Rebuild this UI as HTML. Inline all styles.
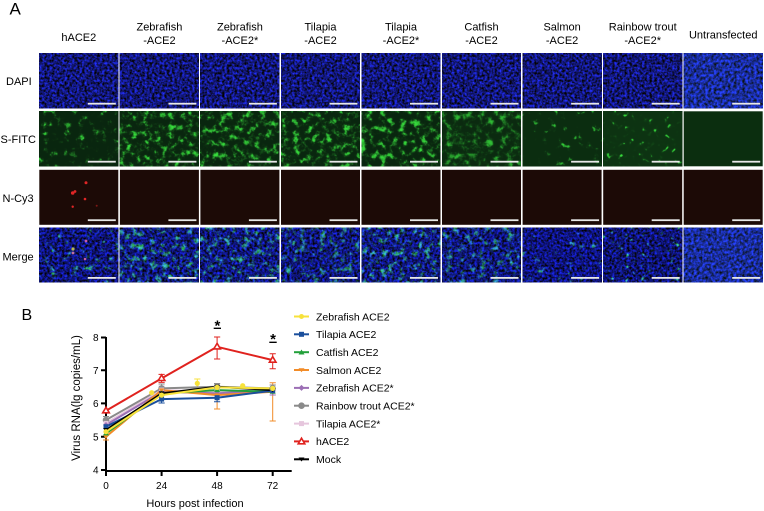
<!DOCTYPE html>
<html><head><meta charset="utf-8"><style>
html,body{margin:0;padding:0;background:#fff;}
body{width:764px;height:511px;overflow:hidden;}
svg{display:block;font-family:"Liberation Sans",Arial,sans-serif;}
</style></head><body>
<svg width="764" height="511" viewBox="0 0 764 511" xmlns="http://www.w3.org/2000/svg">
<defs>
<filter id="dapi" x="0" y="0" width="1" height="1" color-interpolation-filters="sRGB">
 <feTurbulence type="fractalNoise" baseFrequency="0.4" numOctaves="2" seed="3"/>
 <feColorMatrix values="0.2 0 0 0 -0.03  0.3 0 0 0 -0.06  1.8 0 0 0 -0.44  0 0 0 0 1"/>
</filter>
<filter id="dapiB" x="0" y="0" width="1" height="1" color-interpolation-filters="sRGB">
 <feTurbulence type="fractalNoise" baseFrequency="0.35" numOctaves="2" seed="9"/>
 <feColorMatrix values="0.2 0 0 0 0  0.35 0 0 0 0  1.8 0 0 0 -0.3  0 0 0 0 1"/>
</filter>
<!-- green S-FITC -->
<filter id="gD" x="0" y="0" width="1" height="1" color-interpolation-filters="sRGB">
 <feTurbulence type="fractalNoise" baseFrequency="0.16" numOctaves="3" seed="7"/>
 <feColorMatrix values="0 0 0 0 0  1 0 0 0 0  0 0 0 0 0  0 0 0 0 1"/>
 <feComponentTransfer><feFuncG type="table" tableValues="0.17 0.17 0.17 0.17 0.17 0.2 0.36 0.75 0.95 1 1"/></feComponentTransfer>
 <feColorMatrix values="0 0.22 0 0 0  0 0.88 0 0 0  0 0.22 0 0 0.02  0 0 0 0 1"/>
</filter>
<filter id="gD2" x="0" y="0" width="1" height="1" color-interpolation-filters="sRGB">
 <feTurbulence type="fractalNoise" baseFrequency="0.15" numOctaves="3" seed="21"/>
 <feColorMatrix values="0 0 0 0 0  1 0 0 0 0  0 0 0 0 0  0 0 0 0 1"/>
 <feComponentTransfer><feFuncG type="table" tableValues="0.17 0.17 0.17 0.17 0.17 0.2 0.38 0.78 0.95 1 1"/></feComponentTransfer>
 <feColorMatrix values="0 0.22 0 0 0  0 0.88 0 0 0  0 0.22 0 0 0.02  0 0 0 0 1"/>
</filter>
<filter id="gM" x="0" y="0" width="1" height="1" color-interpolation-filters="sRGB">
 <feTurbulence type="fractalNoise" baseFrequency="0.15" numOctaves="3" seed="13"/>
 <feColorMatrix values="0 0 0 0 0  1 0 0 0 0  0 0 0 0 0  0 0 0 0 1"/>
 <feComponentTransfer><feFuncG type="table" tableValues="0.19 0.19 0.19 0.19 0.19 0.22 0.34 0.6 0.8 0.85 0.85"/></feComponentTransfer>
 <feColorMatrix values="0 0.22 0 0 0  0 0.88 0 0 0  0 0.22 0 0 0.02  0 0 0 0 1"/>
</filter>
<filter id="gS" x="0" y="0" width="1" height="1" color-interpolation-filters="sRGB">
 <feTurbulence type="fractalNoise" baseFrequency="0.14" numOctaves="3" seed="31"/>
 <feColorMatrix values="0 0 0 0 0  1 0 0 0 0  0 0 0 0 0  0 0 0 0 1"/>
 <feComponentTransfer><feFuncG type="table" tableValues="0.17 0.17 0.17 0.17 0.17 0.17 0.19 0.35 0.85 1 1"/></feComponentTransfer>
 <feColorMatrix values="0 0.22 0 0 0  0 0.88 0 0 0  0 0.22 0 0 0.02  0 0 0 0 1"/>
</filter>
<filter id="gVS" x="0" y="0" width="1" height="1" color-interpolation-filters="sRGB">
 <feTurbulence type="fractalNoise" baseFrequency="0.12" numOctaves="3" seed="41"/>
 <feColorMatrix values="0 0 0 0 0  1 0 0 0 0  0 0 0 0 0  0 0 0 0 1"/>
 <feComponentTransfer><feFuncG type="table" tableValues="0.2 0.2 0.2 0.2 0.2 0.2 0.2 0.24 0.7 1 1"/></feComponentTransfer>
 <feColorMatrix values="0 0.22 0 0 0  0 0.88 0 0 0  0 0.22 0 0 0.02  0 0 0 0 1"/>
</filter>
<filter id="gDots" x="0" y="0" width="1" height="1" color-interpolation-filters="sRGB">
 <feTurbulence type="fractalNoise" baseFrequency="0.17" numOctaves="2" seed="51"/>
 <feColorMatrix values="0 0 0 0 0  1 0 0 0 0  0 0 0 0 0  0 0 0 0 1"/>
 <feComponentTransfer><feFuncG type="table" tableValues="0.23 0.23 0.23 0.23 0.23 0.23 0.24 0.3 0.9 1 1"/></feComponentTransfer>
 <feColorMatrix values="0 0.22 0 0 0  0 0.88 0 0 0  0 0.22 0 0 0.02  0 0 0 0 1"/>
</filter>
<!-- merge -->
<filter id="mD" x="0" y="0" width="1" height="1" color-interpolation-filters="sRGB">
 <feTurbulence type="fractalNoise" baseFrequency="0.4" numOctaves="2" seed="3" result="nb"/>
 <feColorMatrix in="nb" values="0.15 0 0 0 -0.02  0.25 0 0 0 -0.05  1.8 0 0 0 -0.44  0 0 0 0 1" result="b"/>
 <feTurbulence type="fractalNoise" baseFrequency="0.16" numOctaves="3" seed="7" result="ng"/>
 <feColorMatrix in="ng" values="0 0 0 0 0  1 0 0 0 0  0 0 0 0 0  0 0 0 0 1" result="g0"/>
 <feComponentTransfer in="g0" result="g1"><feFuncG type="table" tableValues="0 0 0 0 0 0.02 0.18 0.6 0.85 1 1"/></feComponentTransfer>
 <feColorMatrix in="g1" values="0 0.18 0 0 0  0 0.8 0 0 0  0 0.3 0 0 0  0 0 0 0 1" result="g"/>
 <feBlend in="g" in2="b" mode="screen"/>
</filter>
<filter id="mM" x="0" y="0" width="1" height="1" color-interpolation-filters="sRGB">
 <feTurbulence type="fractalNoise" baseFrequency="0.4" numOctaves="2" seed="4" result="nb"/>
 <feColorMatrix in="nb" values="0.15 0 0 0 -0.02  0.25 0 0 0 -0.05  1.8 0 0 0 -0.44  0 0 0 0 1" result="b"/>
 <feTurbulence type="fractalNoise" baseFrequency="0.15" numOctaves="3" seed="13" result="ng"/>
 <feColorMatrix in="ng" values="0 0 0 0 0  1 0 0 0 0  0 0 0 0 0  0 0 0 0 1" result="g0"/>
 <feComponentTransfer in="g0" result="g1"><feFuncG type="table" tableValues="0 0 0 0 0 0.02 0.15 0.5 0.75 0.85 0.85"/></feComponentTransfer>
 <feColorMatrix in="g1" values="0 0.18 0 0 0  0 0.8 0 0 0  0 0.3 0 0 0  0 0 0 0 1" result="g"/>
 <feBlend in="g" in2="b" mode="screen"/>
</filter>
<filter id="mS" x="0" y="0" width="1" height="1" color-interpolation-filters="sRGB">
 <feTurbulence type="fractalNoise" baseFrequency="0.4" numOctaves="2" seed="5" result="nb"/>
 <feColorMatrix in="nb" values="0.15 0 0 0 -0.02  0.25 0 0 0 -0.05  1.8 0 0 0 -0.44  0 0 0 0 1" result="b"/>
 <feTurbulence type="fractalNoise" baseFrequency="0.14" numOctaves="3" seed="31" result="ng"/>
 <feColorMatrix in="ng" values="0 0 0 0 0  1 0 0 0 0  0 0 0 0 0  0 0 0 0 1" result="g0"/>
 <feComponentTransfer in="g0" result="g1"><feFuncG type="table" tableValues="0 0 0 0 0 0 0.02 0.25 0.8 1 1"/></feComponentTransfer>
 <feColorMatrix in="g1" values="0 0.18 0 0 0  0 0.8 0 0 0  0 0.3 0 0 0  0 0 0 0 1" result="g"/>
 <feBlend in="g" in2="b" mode="screen"/>
</filter>
<filter id="mVS" x="0" y="0" width="1" height="1" color-interpolation-filters="sRGB">
 <feTurbulence type="fractalNoise" baseFrequency="0.4" numOctaves="2" seed="6" result="nb"/>
 <feColorMatrix in="nb" values="0.15 0 0 0 -0.02  0.25 0 0 0 -0.05  1.8 0 0 0 -0.42  0 0 0 0 1" result="b"/>
 <feTurbulence type="fractalNoise" baseFrequency="0.12" numOctaves="3" seed="41" result="ng"/>
 <feColorMatrix in="ng" values="0 0 0 0 0  1 0 0 0 0  0 0 0 0 0  0 0 0 0 1" result="g0"/>
 <feComponentTransfer in="g0" result="g1"><feFuncG type="table" tableValues="0 0 0 0 0 0 0 0.08 0.65 1 1"/></feComponentTransfer>
 <feColorMatrix in="g1" values="0 0.18 0 0 0  0 0.8 0 0 0  0 0.3 0 0 0  0 0 0 0 1" result="g"/>
 <feBlend in="g" in2="b" mode="screen"/>
</filter>
<filter id="mDots" x="0" y="0" width="1" height="1" color-interpolation-filters="sRGB">
 <feTurbulence type="fractalNoise" baseFrequency="0.4" numOctaves="2" seed="8" result="nb"/>
 <feColorMatrix in="nb" values="0.15 0 0 0 -0.02  0.25 0 0 0 -0.05  1.8 0 0 0 -0.46  0 0 0 0 1" result="b"/>
 <feTurbulence type="fractalNoise" baseFrequency="0.17" numOctaves="2" seed="51" result="ng"/>
 <feColorMatrix in="ng" values="0 0 0 0 0  1 0 0 0 0  0 0 0 0 0  0 0 0 0 1" result="g0"/>
 <feComponentTransfer in="g0" result="g1"><feFuncG type="table" tableValues="0 0 0 0 0 0 0.01 0.1 0.85 1 1"/></feComponentTransfer>
 <feColorMatrix in="g1" values="0 0.18 0 0 0  0 0.8 0 0 0  0 0.3 0 0 0  0 0 0 0 1" result="g"/>
 <feBlend in="g" in2="b" mode="screen"/>
</filter>
</defs>

<rect width="764" height="511" fill="#fff"/>

<!-- Panel A labels -->
<text x="9.5" y="14.5" font-size="17" fill="#000">A</text>
<g font-size="11" fill="#000" text-anchor="middle">
 <text x="78.8" y="41">hACE2</text>
 <text x="159.4" y="30.7">Zebrafish</text><text x="159.4" y="44">-ACE2</text>
 <text x="239.9" y="30.7">Zebrafish</text><text x="239.9" y="44">-ACE2*</text>
 <text x="320.5" y="30.7">Tilapia</text><text x="320.5" y="44">-ACE2</text>
 <text x="401" y="30.7">Tilapia</text><text x="401" y="44">-ACE2*</text>
 <text x="481.5" y="30.7">Catfish</text><text x="481.5" y="44">-ACE2</text>
 <text x="562.1" y="30.7">Salmon</text><text x="562.1" y="44">-ACE2</text>
 <text x="642.7" y="30.7">Rainbow trout</text><text x="642.7" y="44">-ACE2*</text>
 <text x="723.2" y="38.7">Untransfected</text>
</g>
<g font-size="11" fill="#000">
 <text x="6" y="85">DAPI</text>
 <text x="0.5" y="143">S-FITC</text>
 <text x="2.5" y="202">N-Cy3</text>
 <text x="2.5" y="260.5">Merge</text>
</g>

<!-- DAPI row -->
<g>
 <rect x="39.3" y="53.3" width="79" height="55" filter="url(#dapi)"/>
 <rect x="119.9" y="53.3" width="79" height="55" filter="url(#dapi)"/>
 <rect x="200.4" y="53.3" width="79" height="55" filter="url(#dapi)"/>
 <rect x="281" y="53.3" width="79" height="55" filter="url(#dapi)"/>
 <rect x="361.5" y="53.3" width="79" height="55" filter="url(#dapi)"/>
 <rect x="442" y="53.3" width="79" height="55" filter="url(#dapi)"/>
 <rect x="522.6" y="53.3" width="79" height="55" filter="url(#dapi)"/>
 <rect x="603.2" y="53.3" width="79" height="55" filter="url(#dapi)"/>
 <rect x="683.7" y="53.3" width="79" height="55" filter="url(#dapiB)"/>
</g>
<!-- S-FITC row -->
<g>
 <rect x="39.3" y="111.3" width="79" height="55" filter="url(#gS)"/>
 <rect x="119.9" y="111.3" width="79" height="55" filter="url(#gD)"/>
 <rect x="200.4" y="111.3" width="79" height="55" filter="url(#gD2)"/>
 <rect x="281" y="111.3" width="79" height="55" filter="url(#gD)"/>
 <rect x="361.5" y="111.3" width="79" height="55" filter="url(#gD2)"/>
 <rect x="442" y="111.3" width="79" height="55" filter="url(#gM)"/>
 <rect x="522.6" y="111.3" width="79" height="55" filter="url(#gVS)"/>
 <rect x="603.2" y="111.3" width="79" height="55" filter="url(#gDots)"/>
 <rect x="683.7" y="111.3" width="79" height="55" fill="#0b2e0f"/>
</g>
<!-- N-Cy3 row -->
<g fill="#1c0a06">
 <rect x="39.3" y="169.8" width="79" height="55"/>
 <rect x="119.9" y="169.8" width="79" height="55"/>
 <rect x="200.4" y="169.8" width="79" height="55"/>
 <rect x="281" y="169.8" width="79" height="55"/>
 <rect x="361.5" y="169.8" width="79" height="55"/>
 <rect x="442" y="169.8" width="79" height="55"/>
 <rect x="522.6" y="169.8" width="79" height="55"/>
 <rect x="603.2" y="169.8" width="79" height="55"/>
 <rect x="683.7" y="169.8" width="79" height="55"/>
</g>
<g fill="#e02626">
 <circle cx="72.7" cy="193" r="1.8"/><circle cx="75" cy="191.5" r="1.4"/>
 <circle cx="86" cy="182.7" r="1.5"/><circle cx="85" cy="199" r="1.3"/>
 <circle cx="72.7" cy="206.7" r="1.2"/><circle cx="96.7" cy="205.7" r="1" opacity="0.5"/>
</g>
<!-- Merge row -->
<g>
 <rect x="39.3" y="227.5" width="79" height="55" filter="url(#mS)"/>
 <rect x="119.9" y="227.5" width="79" height="55" filter="url(#mD)"/>
 <rect x="200.4" y="227.5" width="79" height="55" filter="url(#mD)"/>
 <rect x="281" y="227.5" width="79" height="55" filter="url(#mM)"/>
 <rect x="361.5" y="227.5" width="79" height="55" filter="url(#mD)"/>
 <rect x="442" y="227.5" width="79" height="55" filter="url(#mM)"/>
 <rect x="522.6" y="227.5" width="79" height="55" filter="url(#mVS)"/>
 <rect x="603.2" y="227.5" width="79" height="55" filter="url(#mDots)"/>
 <rect x="683.7" y="227.5" width="79" height="55" filter="url(#dapiB)"/>
</g>
<g>
 <circle cx="86" cy="241" r="1.4" fill="#c55ba8"/><circle cx="85" cy="259" r="1.3" fill="#c55ba8"/>
 <circle cx="73" cy="253" r="1.4" fill="#c070a0"/><circle cx="73" cy="249" r="1.6" fill="#b8b850"/>
</g>
<!-- scale bars -->
<g fill="#e8e8e8">
 <rect x="87.8" y="102.8" width="28" height="1.8"/><rect x="168.4" y="102.8" width="28" height="1.8"/><rect x="248.9" y="102.8" width="28" height="1.8"/><rect x="329.5" y="102.8" width="28" height="1.8"/><rect x="410" y="102.8" width="28" height="1.8"/><rect x="490.5" y="102.8" width="28" height="1.8"/><rect x="571.1" y="102.8" width="28" height="1.8"/><rect x="651.7" y="102.8" width="28" height="1.8"/><rect x="732.2" y="102.8" width="28" height="1.8"/>
 <rect x="87.8" y="160.8" width="28" height="1.8"/><rect x="168.4" y="160.8" width="28" height="1.8"/><rect x="248.9" y="160.8" width="28" height="1.8"/><rect x="329.5" y="160.8" width="28" height="1.8"/><rect x="410" y="160.8" width="28" height="1.8"/><rect x="490.5" y="160.8" width="28" height="1.8"/><rect x="571.1" y="160.8" width="28" height="1.8"/><rect x="651.7" y="160.8" width="28" height="1.8"/><rect x="732.2" y="160.8" width="28" height="1.8"/>
 <rect x="87.8" y="219.3" width="28" height="1.8"/><rect x="168.4" y="219.3" width="28" height="1.8"/><rect x="248.9" y="219.3" width="28" height="1.8"/><rect x="329.5" y="219.3" width="28" height="1.8"/><rect x="410" y="219.3" width="28" height="1.8"/><rect x="490.5" y="219.3" width="28" height="1.8"/><rect x="571.1" y="219.3" width="28" height="1.8"/><rect x="651.7" y="219.3" width="28" height="1.8"/><rect x="732.2" y="219.3" width="28" height="1.8"/>
 <rect x="87.8" y="277" width="28" height="1.8"/><rect x="168.4" y="277" width="28" height="1.8"/><rect x="248.9" y="277" width="28" height="1.8"/><rect x="329.5" y="277" width="28" height="1.8"/><rect x="410" y="277" width="28" height="1.8"/><rect x="490.5" y="277" width="28" height="1.8"/><rect x="571.1" y="277" width="28" height="1.8"/><rect x="651.7" y="277" width="28" height="1.8"/><rect x="732.2" y="277" width="28" height="1.8"/>
</g>

<!-- Panel B -->
<text x="21.5" y="320" font-size="16" fill="#000">B</text>

<!-- axes -->
<g stroke="#000" stroke-width="2" fill="none">
 <path d="M106 337 V471 H291.7"/>
 <path d="M101 337.5 H106 M101 370.3 H106 M101 403.4 H106 M101 436.7 H106 M101 470 H106"/>
 <path d="M106 471 V476 M161.6 471 V476 M217.1 471 V476 M272.7 471 V476"/>
</g>
<g font-size="10" fill="#000" text-anchor="end">
 <text x="98.5" y="341">8</text>
 <text x="98.5" y="374">7</text>
 <text x="98.5" y="407">6</text>
 <text x="98.5" y="440.5">5</text>
 <text x="98.5" y="473.5">4</text>
</g>
<g font-size="10" fill="#000" text-anchor="middle">
 <text x="106" y="489">0</text>
 <text x="161.6" y="489">24</text>
 <text x="217.1" y="489">48</text>
 <text x="272.7" y="489">72</text>
</g>
<text x="195" y="507" font-size="11" text-anchor="middle" fill="#000">Hours post infection</text>
<text transform="translate(80,398) rotate(-90)" font-size="11.5" text-anchor="middle" fill="#000">Virus RNA(lg copies/mL)</text>

<!-- error bars -->
<g stroke-width="1" fill="none">
 <path stroke="#f28c28" d="M217.1 390 V409 M214 409 H220.2 M272.7 382.8 V421 M269.6 382.8 H275.8 M269.6 421 H275.8 M106 433 V440 M103 440 H109"/>
 <path stroke="#1b4f9c" d="M161.6 395 V403 M158.5 403 H164.7 M217.1 391.7 V401.7 M214 401.7 H220.2"/>
 <path stroke="#8a8a8a" d="M106 416.5 V423.5 M103 416.5 H109 M161.6 384 V392 M158.5 384 H164.7 M217.1 383.5 V390 M214 383.5 H220.2 M272.7 385 V392 M269.6 385 H275.8"/>
 <path stroke="#e6c6dd" d="M161.6 386 V394 M158.5 386 H164.7"/>
 <path stroke="#9c6fb5" d="M272.7 386 V395 M269.6 395 H275.8"/>
 <path stroke="#f7e23b" d="M197.3 379 V388 M194.2 379 H200.4"/>
 <path stroke="#e0221e" d="M106 408 V413.5 M161.6 374.4 V382.4 M158.5 374.4 H164.7 M158.5 382.4 H164.7 M217.1 337 V359 M214 337 H220.2 M214 359 H220.2 M272.7 353.7 V368.7 M269.6 353.7 H275.8 M269.6 368.7 H275.8"/>
</g>

<!-- lines -->
<g fill="none" stroke-width="2" stroke-linejoin="round">
 <polyline stroke="#8a8a8a" points="106,420 161.6,388.4 217.1,386.7 272.7,388.4"/>
 <polyline stroke="#e6c6dd" points="106,423.4 161.6,390.1 217.1,391.7 272.7,390.1"/>
 <polyline stroke="#9c6fb5" points="106,425 161.6,391.7 217.1,393.4 272.7,390.1"/>
 <polyline stroke="#f28c28" points="106,436.7 161.6,390.1 217.1,395.1 272.7,391.7"/>
 <polyline stroke="#22a03a" points="106,433.4 161.6,393.4 217.1,390.1 272.7,391.7"/>
 <polyline stroke="#1b4f9c" points="106,426.7 161.6,399.1 217.1,397.7 272.7,390.7"/>
 <polyline stroke="#000" points="106,430 161.6,393.4 217.1,386.7 272.7,390.1"/>
 <polyline stroke="#f7e23b" points="106,431.7 161.6,395.1 217.1,387.4 272.7,388.4"/>
 <polyline stroke="#e0221e" points="106,410.7 161.6,378.4 217.1,346.8 272.7,360.1"/>
</g>

<!-- markers -->
<g>
 <circle cx="106" cy="420" r="3.3" fill="#8a8a8a"/><circle cx="161.6" cy="388.4" r="3.3" fill="#8a8a8a"/><circle cx="217.1" cy="386.7" r="3.3" fill="#8a8a8a"/><circle cx="272.7" cy="388.4" r="3.3" fill="#8a8a8a"/>
 <rect x="103.5" y="420.9" width="5" height="5" fill="#e6c6dd"/><rect x="159.1" y="387.6" width="5" height="5" fill="#e6c6dd"/><rect x="214.6" y="389.2" width="5" height="5" fill="#e6c6dd"/><rect x="270.2" y="387.6" width="5" height="5" fill="#e6c6dd"/>
 <path fill="#9c6fb5" d="M106 422 l3 3 l-3 3 l-3 -3z M161.6 388.7 l3 3 l-3 3 l-3 -3z M217.1 390.4 l3 3 l-3 3 l-3 -3z M272.7 387.1 l3 3 l-3 3 l-3 -3z"/>
 <path fill="#f28c28" d="M103 435 h6 l-3 4z M158.6 388.4 h6 l-3 4z M214.1 393.4 h6 l-3 4z M269.7 390 h6 l-3 4z"/>
 <path fill="#22a03a" d="M106 430.4 l3 5 h-6z M161.6 390.4 l3 5 h-6z M217.1 387.1 l3 5 h-6z M272.7 388.7 l3 5 h-6z"/>
 <rect x="103.5" y="424.2" width="5" height="5" fill="#1b4f9c"/><rect x="159.1" y="396.6" width="5" height="5" fill="#1b4f9c"/><rect x="214.6" y="395.2" width="5" height="5" fill="#1b4f9c"/><rect x="270.2" y="388.2" width="5" height="5" fill="#1b4f9c"/>
 <path fill="#000" d="M103 428 h6 l-3 4z M158.6 391.4 h6 l-3 4z M214.1 384.7 h6 l-3 4z M269.7 388.1 h6 l-3 4z"/>
 <circle cx="106" cy="431.7" r="2.6" fill="#f7e23b"/><circle cx="161.6" cy="395.1" r="2.6" fill="#f7e23b"/><circle cx="217.1" cy="387.4" r="2.6" fill="#f7e23b"/><circle cx="272.7" cy="388.4" r="2.6" fill="#f7e23b"/>
 <circle cx="151.7" cy="392.7" r="2.6" fill="#f7e23b"/><circle cx="197.3" cy="383.4" r="2.6" fill="#f7e23b"/><circle cx="242.7" cy="385.7" r="2.6" fill="#f7e23b"/>
 <path fill="#fff" stroke="#e0221e" stroke-width="1.6" d="M106 407.2 l3.3 5.6 h-6.6z M161.6 374.9 l3.3 5.6 h-6.6z M217.1 343.3 l3.3 5.6 h-6.6z M272.7 356.6 l3.3 5.6 h-6.6z"/>
</g>

<!-- significance -->
<g font-size="15" font-weight="bold" fill="#000" text-anchor="middle">
 <text x="217.4" y="330.5">*</text>
 <text x="273" y="344">*</text>
</g>
<g stroke="#000" stroke-width="1.4">
 <path d="M213.7 328.3 H221 M269.3 342.3 H276.7"/>
</g>

<!-- legend -->
<g stroke-width="2">
 <path stroke="#f7e23b" d="M294 316.5 H309"/>
 <path stroke="#1b4f9c" d="M294 334.3 H309"/>
 <path stroke="#22a03a" d="M294 352.2 H309"/>
 <path stroke="#f28c28" d="M294 370 H309"/>
 <path stroke="#9c6fb5" d="M294 387.9 H309"/>
 <path stroke="#8a8a8a" d="M294 405.7 H309"/>
 <path stroke="#e6c6dd" d="M294 423.6 H309"/>
 <path stroke="#e0221e" d="M294 441.4 H309"/>
 <path stroke="#000" d="M294 459.3 H309"/>
</g>
<g>
 <circle cx="301.5" cy="316.5" r="2.5" fill="#f7e23b"/>
 <rect x="299" y="331.8" width="5" height="5" fill="#1b4f9c"/>
 <path fill="#22a03a" d="M301.5 349.5 l3 5 h-6z"/>
 <path fill="#f28c28" d="M298.5 368.3 h6 l-3 4z"/>
 <path fill="#9c6fb5" d="M301.5 384.9 l3 3 l-3 3 l-3 -3z"/>
 <circle cx="301.5" cy="405.7" r="3.3" fill="#8a8a8a"/>
 <rect x="299" y="421.1" width="5" height="5" fill="#e6c6dd"/>
 <path fill="#fff" stroke="#e0221e" stroke-width="1.6" d="M301.5 438.2 l3.3 5.6 h-6.6z"/>
 <path fill="#000" d="M298.5 457.5 h6 l-3 4z"/>
</g>
<g font-size="10.5" fill="#000">
 <text x="316" y="320.3">Zebrafish ACE2</text>
 <text x="316" y="338.1">Tilapia ACE2</text>
 <text x="316" y="356">Catfish ACE2</text>
 <text x="316" y="373.8">Salmon ACE2</text>
 <text x="316" y="391.7">Zebrafish ACE2*</text>
 <text x="316" y="409.5">Rainbow trout ACE2*</text>
 <text x="316" y="427.4">Tilapia ACE2*</text>
 <text x="316" y="445.2">hACE2</text>
 <text x="316" y="463.1">Mock</text>
</g>
</svg>
</body></html>
